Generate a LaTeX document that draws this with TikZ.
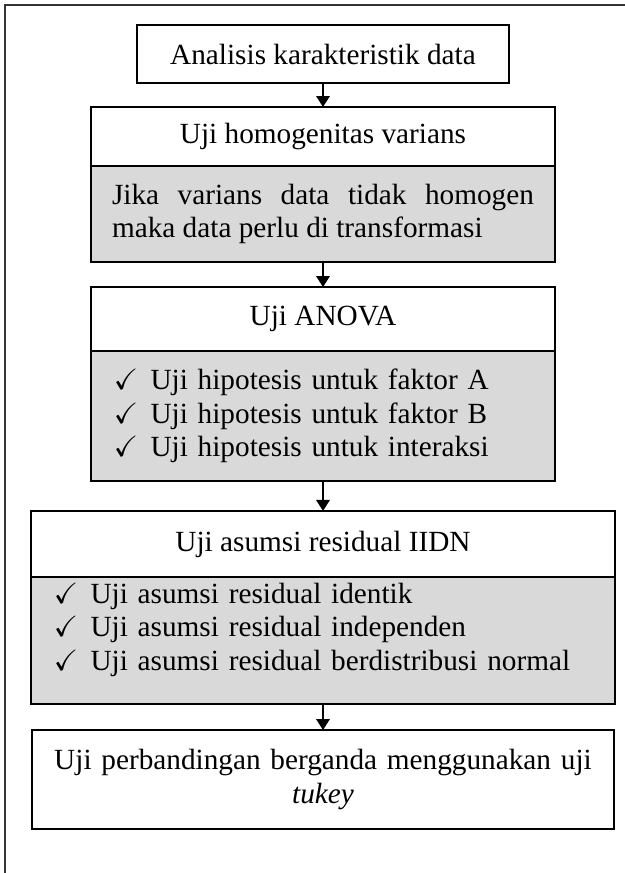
\documentclass[tikz,border=0pt]{standalone}
\usepackage{amssymb}
\usepackage{fontspec}
\setmainfont{Liberation Serif}
\usetikzlibrary{arrows.meta}

\newcommand{\cek}{$\checkmark$\hspace{5pt}}

\begin{document}
\begin{tikzpicture}[x=0.41pt,y=-0.41pt,
font=\fontsize{12pt}{13.8pt}\selectfont,
head/.style={rectangle,draw=black,thick,fill=white,align=center,inner sep=0pt,outer sep=0pt},
body/.style={rectangle,draw=black,thick,fill=black!15,inner ysep=0pt,outer sep=0pt,anchor=north},
edge/.style={-{Triangle[length=4.5pt,width=5.5pt]},thick}]

\useasboundingbox (0,0) rectangle (625,873);
\draw[black!80,line width=.5pt] (5,880) -- (5,5) -- (630,5);

\node (DATA) at (323,54) [head,minimum width=152.9pt,minimum height=23.8pt] {Analisis karakteristik data};

\node (HOMOGEN) at (323,136.5) [head,minimum width=190.2pt,minimum height=24.2pt] {Uji homogenitas varians};
\node (HOMOGENISI) at (HOMOGEN.south) [body,minimum width=190.2pt,minimum height=39.4pt,inner xsep=8.6pt,text width=173pt,align=justify] {Jika varians data tidak homogen\linebreak maka data perlu di transformasi};

\node (ANOVA) at (323,319) [head,minimum width=190.2pt,minimum height=26.2pt] {Uji ANOVA};
\node (ANOVAISI) at (ANOVA.south) [body,minimum width=190.2pt,minimum height=53.3pt,inner xsep=9.4pt,text width=171.4pt,align=left] {\cek Uji hipotesis untuk faktor A\\
\cek Uji hipotesis untuk faktor B\\
\cek Uji hipotesis untuk interaksi};

\node (IIDN) at (323,544) [head,minimum width=239.4pt,minimum height=27.1pt] {Uji asumsi residual IIDN};
\node (IIDNISI) at (IIDN.south) [body,minimum width=239.4pt,minimum height=52.1pt,inner xsep=9.4pt,text width=220.6pt,align=left] {\cek Uji asumsi residual identik\\
\cek Uji asumsi residual independen\\
\cek Uji asumsi residual berdistribusi normal\\[-2.5pt]\mbox{}};

\node (TUKEY) at (323,779.5) [head,minimum width=239pt,minimum height=40.6pt,text width=230pt] {Uji perbandingan berganda menggunakan uji\\ \textit{tukey}};

\draw[edge] (DATA) -- (HOMOGEN);
\draw[edge] (HOMOGENISI) -- (ANOVA);
\draw[edge] (ANOVAISI) -- (IIDN);
\draw[edge] (IIDNISI) -- (TUKEY);

\end{tikzpicture}
\end{document}
